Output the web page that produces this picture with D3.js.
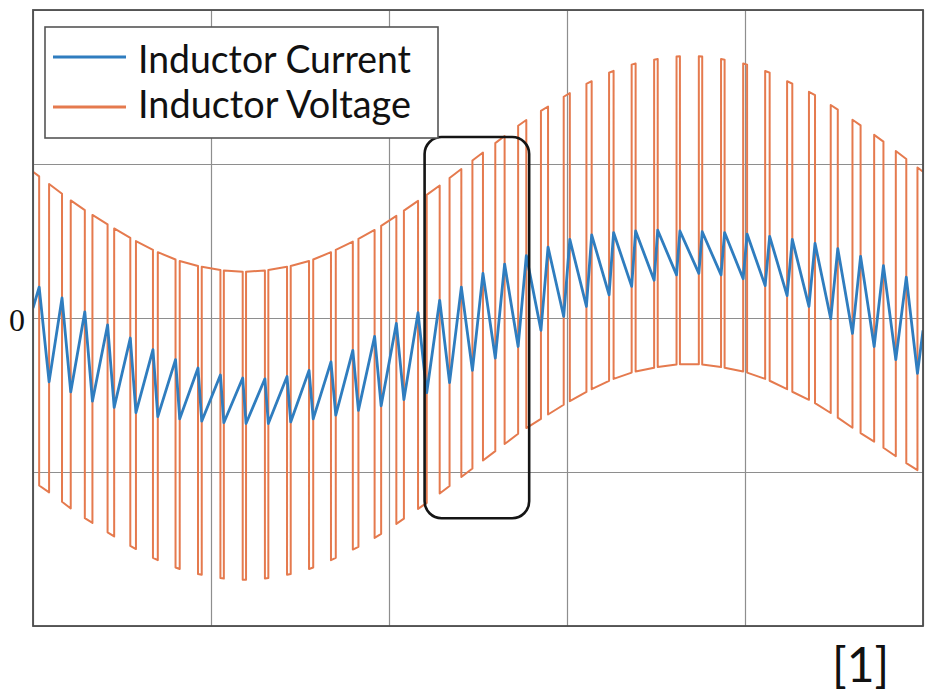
<!DOCTYPE html>
<html>
<head>
<meta charset="utf-8">
<style>
html, body {
  margin:0;
  background:white;
}
svg {
  display:block;
}
.grid line {
  stroke:#8e8e8e;
  stroke-width:1.2;
}
.grid path {
  display:none;
}
</style>
</head>
<body>
<div id="chart"></div>
<script src="https://d3js.org/d3.v7.min.js"></script>
<script>
// one grid cycle (20 ms), 40 switching periods of 0.5 ms
const period = 0.5;

// voltage envelopes read at every period boundary (41 values)
const upperEnv = [95,84,73,64,55,47,40,35,32,30,30,32,35,40,47,54,63,73,83,94,
                  105,116,127,136,145,153,160,165,168,170,170,168,165,160,153,146,137,127,117,106,95];
const lowerEnv = [-106,-116,-127,-136,-145,-153,-160,-165,-168,-170,-170,-168,-165,-160,-153,-146,-137,-127,-117,-106,
                  -95,-84,-73,-64,-55,-47,-40,-35,-32,-30,-30,-32,-35,-40,-47,-54,-63,-73,-82,-92,-101];

// width of the low pulse in each period (ms), centred in the period
const offWidth = [0.223,0.196,0.171,0.148,0.127,0.109,0.094,0.084,0.077,0.075,
                  0.077,0.083,0.094,0.108,0.126,0.147,0.170,0.195,0.222,0.249,
                  0.277,0.304,0.329,0.352,0.373,0.391,0.406,0.416,0.423,0.425,
                  0.423,0.417,0.406,0.392,0.374,0.353,0.330,0.305,0.278,0.251];

// inductor current at the switching instants
const iPeak = [20,13,4,-4.5,-13,-20.5,-27,-32.5,-37,-39,
               -39.5,-38,-34,-28.5,-21,-12,-3.5,3.5,11.5,20,
               29,35,40.5,46,51,54,55.5,56.5,57,56.5,
               56,55.5,54.5,53,51,48.5,45,40,34,26.5];
const iValley = [-41.5,-48,-54,-58,-61.5,-64,-65.5,-67,-68,-68.5,
                 -68.5,-67.5,-65.5,-63,-60,-57,-53,-48.5,-42,-34,
                 -26,-18.5,-8,1,7.5,15,20.5,24.5,28,29,
                 28,25.5,21,14.5,7.5,-0.5,-10,-18.5,-27,-36];
const iStart = 6.5, iEnd = -8;

const xTicks = [0,4,8,12,16,20];
const yTicks = [-200,-100,0,100,200];
const yLabelTicks = [0];
const legendNames = ["Inductor Current","Inductor Voltage"];
const legendColors = ["#2f7dbf","#e57a4e"];
// highlighted window: [t0, t1, vLow, vHigh]
const highlight = [8.8, 11.15, -130, 117.5];

const width = 935, height = 700;
const margin = {top:10, right:12, bottom:74, left:33};

const svg = d3.select("#chart").append("svg")
    .attr("width", width)
    .attr("height", height);

const x = d3.scaleLinear()
  .domain([0, 20])
  .range([margin.left, width - margin.right]);

const y = d3.scaleLinear()
  .domain([-200, 200])
  .range([height - margin.bottom, margin.top]);

const plotW = x(20) - x(0), plotH = y(-200) - y(200);

// grid
svg.append("g")
  .attr("class","grid")
  .attr("transform", `translate(0,${y(-200)})`)
  .call(d3.axisBottom(x).tickValues(xTicks).tickSize(-plotH).tickFormat(""));

svg.append("g")
  .attr("class","grid")
  .attr("transform", `translate(${x(0)},0)`)
  .call(d3.axisLeft(y).tickValues(yTicks).tickSize(-plotW).tickFormat(""));

// zero label
const yAxis = svg.append("g")
  .attr("transform", `translate(${x(0)},0)`)
  .call(d3.axisLeft(y).tickValues(yLabelTicks).tickSize(0).tickPadding(8).tickFormat(d3.format("d")));
yAxis.select(".domain").remove();
yAxis.selectAll("text")
  .attr("font-family","'Liberation Serif', serif")
  .attr("font-size", 32)
  .attr("dy","0.38em")
  .attr("fill","#111");

svg.append("clipPath").attr("id","plot")
  .append("rect")
  .attr("x", x(0)).attr("y", y(200))
  .attr("width", plotW).attr("height", plotH);

// piecewise envelopes
const bounds = upperEnv.map((d,k) => k*period);
const upper = d3.scaleLinear().domain(bounds).range(upperEnv);
const lower = d3.scaleLinear().domain(bounds).range(lowerEnv);

const vPts = [[0, upperEnv[0]]];
const iPts = [[0, iStart]];
offWidth.forEach(function(w, k){
  const mid = k*period + period/2;
  const tf = mid - w/2, tr = mid + w/2;
  vPts.push([tf, upper(tf)], [tf, lower(tf)], [tr, lower(tr)], [tr, upper(tr)]);
  iPts.push([tf, iPeak[k]], [tr, iValley[k]]);
});
vPts.push([20, upperEnv[upperEnv.length-1]]);
iPts.push([20, iEnd]);

const line = d3.line()
  .x(d => x(d[0]))
  .y(d => y(d[1]));

const data = svg.append("g").attr("clip-path","url(#plot)");

data.append("path")
  .datum(vPts)
  .attr("d", line)
  .attr("fill","none")
  .attr("stroke", legendColors[1])
  .attr("stroke-width", 2)
  .attr("stroke-linejoin","round");

data.append("path")
  .datum(iPts)
  .attr("d", line)
  .attr("fill","none")
  .attr("stroke", legendColors[0])
  .attr("stroke-width", 2.8)
  .attr("stroke-linejoin","round");

// frame
svg.append("rect")
  .attr("x", x(0)).attr("y", y(200))
  .attr("width", plotW).attr("height", plotH)
  .attr("fill","none")
  .attr("stroke","#4d4d4d")
  .attr("stroke-width",1.8);

// highlighted window
svg.append("rect")
  .attr("x", x(highlight[0]))
  .attr("y", y(highlight[3]))
  .attr("width", x(highlight[1]) - x(highlight[0]))
  .attr("height", y(highlight[2]) - y(highlight[3]))
  .attr("rx", 17)
  .attr("fill","none")
  .attr("stroke","#151515")
  .attr("stroke-width",2.6);

// legend
const legend = svg.append("g");
legend.append("rect")
  .attr("x",45).attr("y",27)
  .attr("width",393).attr("height",111)
  .attr("fill","white")
  .attr("stroke","#555")
  .attr("stroke-width",1.6);

legendNames.forEach(function(name, i){
  legend.append("line")
    .attr("x1",53).attr("x2",126)
    .attr("y1",57 + i*50).attr("y2",57 + i*50)
    .attr("stroke", legendColors[i])
    .attr("stroke-width",3);
  legend.append("text")
    .attr("x",138)
    .attr("y",73 + i*44.5)
    .attr("font-family","Lato, 'Open Sans', sans-serif")
    .attr("font-size",39)
    .attr("textLength",273)
    .attr("lengthAdjust","spacingAndGlyphs")
    .attr("fill","#111")
    .text(name);
});

svg.append("text")
  .attr("x",832)
  .attr("y",682)
  .attr("font-family","Lato, 'Open Sans', sans-serif")
  .attr("font-size",48)
  .attr("fill","#111")
  .text("[1]");
</script>
</body>
</html>
